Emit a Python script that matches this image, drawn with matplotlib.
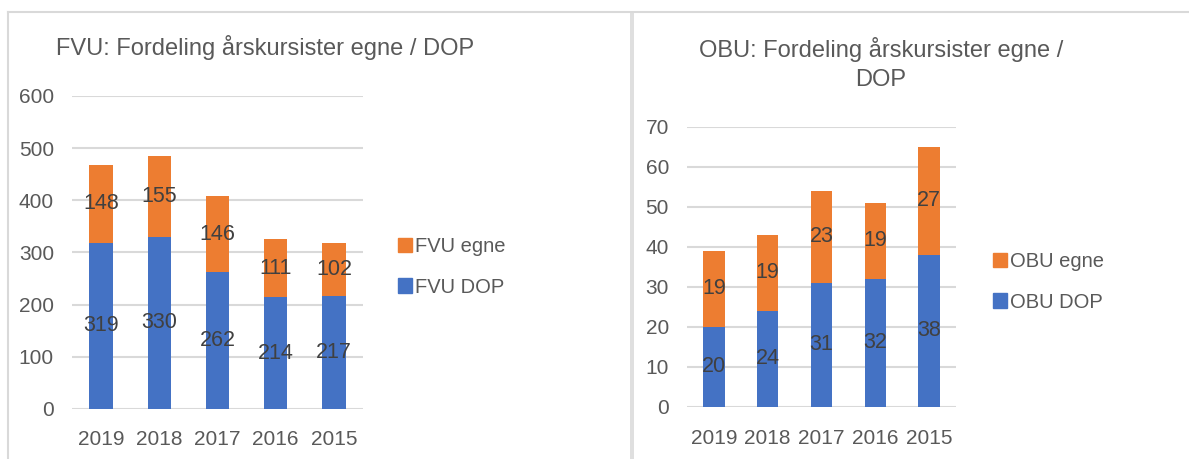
import matplotlib.pyplot as plt
from matplotlib.lines import Line2D
from matplotlib.patches import Patch

# Data ========================================================================
years = ["2019", "2018", "2017", "2016", "2015"]
fvu_dop = [319, 330, 262, 214, 217]
fvu_egne = [148, 155, 146, 111, 102]
obu_dop = [20, 24, 31, 32, 38]
obu_egne = [19, 19, 23, 19, 27]

BLUE = "#4472C4"
ORANGE = "#ED7D31"
GRID = "#D9D9D9"
TXT = "#595959"
LBL = "#404040"

W, H = 1189, 459
plt.rcParams["font.family"] = ["Liberation Sans", "DejaVu Sans"]

fig = plt.figure(figsize=(W / 100, H / 100), dpi=100)


def px_axes(x0, y0, x1, y1):
    # pixel box (top-left origin) -> figure axes
    return fig.add_axes([x0 / W, 1 - y1 / H, (x1 - x0) / W, (y1 - y0) / H])


def fig_line(xs, ys, lw=1.5):
    fig.add_artist(Line2D([x / W for x in xs], [1 - y / H for y in ys],
                          color=GRID, lw=lw, transform=fig.transFigure))


def stacked(ax, dop, egne, ymax, step, xpad, ypad):
    b1 = ax.bar(years, dop, width=0.4, color=BLUE, zorder=3)
    b2 = ax.bar(years, egne, bottom=dop, width=0.4, color=ORANGE, zorder=3)
    ax.bar_label(b1, label_type="center", fontsize=15.5, color=LBL)
    ax.bar_label(b2, label_type="center", fontsize=15.5, color=LBL)
    ax.set_ylim(0, ymax)
    ax.set_xlim(-0.5, 4.5)
    ax.set_yticks(range(0, ymax + 1, step))
    ax.yaxis.grid(True, color=GRID, lw=1.5, zorder=0)
    ax.set_axisbelow(True)
    for s in ax.spines.values():
        s.set_visible(False)
    ax.tick_params(axis="both", length=0, labelsize=15, colors=TXT)
    ax.tick_params(axis="x", pad=xpad)
    ax.tick_params(axis="y", pad=ypad)
    return b1, b2


def legend(labels, x, y):
    fig.legend(handles=[Patch(color=ORANGE, label=labels[0]),
                        Patch(color=BLUE, label=labels[1])],
               loc="center left", bbox_to_anchor=(x / W, 1 - y / H),
               frameon=False, fontsize=14.5, labelcolor=TXT,
               handlelength=0.7, handleheight=0.7, handletextpad=0.15,
               labelspacing=1.05)


# FVU =========================================================================
ax1 = px_axes(72, 96, 363, 409)
stacked(ax1, fvu_dop, fvu_egne, 600, 100, 15, 13)
fig.text(265 / W, 1 - 47 / H, "FVU: Fordeling årskursister egne / DOP",
         ha="center", va="center", fontsize=17, color=TXT)
legend(["FVU egne", "FVU DOP"], 380, 267)

# OBU =========================================================================
ax2 = px_axes(687, 127, 956, 407)
stacked(ax2, obu_dop, obu_egne, 70, 10, 16, 13)
fig.text(881 / W, 1 - 64 / H, "OBU: Fordeling årskursister egne /\nDOP",
         ha="center", va="center", fontsize=17, color=TXT, linespacing=1.4)
legend(["OBU egne", "OBU DOP"], 975, 282)

# Chart borders ===============================================================
fig_line([8, W], [12, 12])
fig_line([8, 8], [12, H])
fig_line([630.5, 630.5], [12, H], lw=1.2)
fig_line([633, 633], [12, H], lw=1.2)

fig.savefig("out.png", dpi=100)
